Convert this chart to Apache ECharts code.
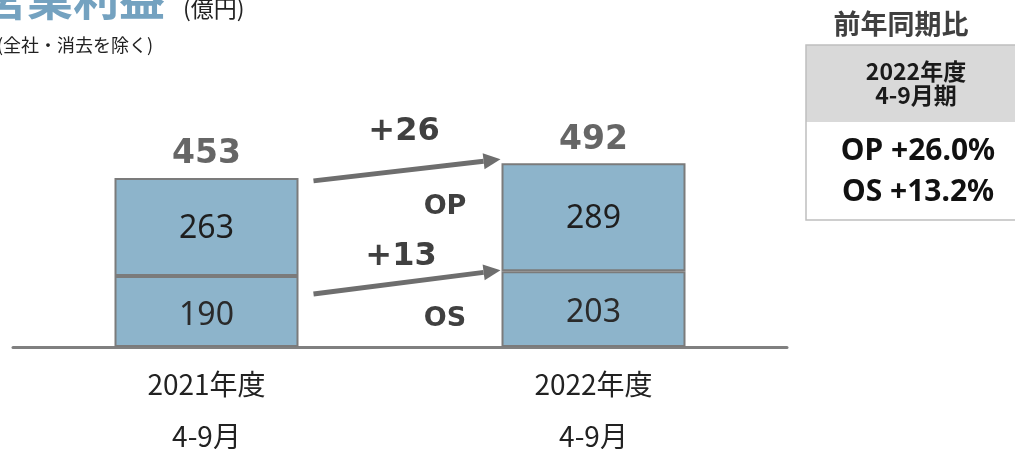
<!DOCTYPE html>
<html>
<head>
<meta charset="utf-8">
<script src="https://cdn.jsdelivr.net/npm/echarts@6/dist/echarts.min.js"></script>
<style>
  html, body { margin: 0; padding: 0; background: #fff; }
  #chart { width: 1015px; height: 449px; }
</style>
</head>
<body>
<div id="chart"></div>
<script>
// 営業利益（億円）: OS を下段、OP を上段に積み上げ
const categories = ['2021年度\n4-9月', '2022年度\n4-9月'];
const osValues = [190, 203];
const opValues = [263, 289];
const totals = osValues.map((v, i) => v + opValues[i]);
const yoyLabels = ['OP +26.0%', 'OS +13.2%'];

const BAR_COLOR = '#8db4cb';
const BAR_BORDER = '#7b7b7b';
const DARK = '#404040';
const BAR_W = 184;

const chart = echarts.init(document.getElementById('chart'));

chart.setOption({
  animation: false,
  grid: { left: 13, right: 228, top: 123, bottom: 102, containLabel: false, outerBoundsMode: 'none' },
  xAxis: {
    type: 'category',
    data: categories,
    axisTick: { show: false },
    axisLine: { lineStyle: { color: '#808080', width: 3 } },
    axisLabel: {
      margin: 11,
      color: '#222',
      fontSize: 28,
      lineHeight: 52,
      fontFamily: '"Noto Sans CJK JP", sans-serif'
    }
  },
  yAxis: { type: 'value', min: 0, max: 600, show: false },
  series: [
    {
      name: 'OS', type: 'bar', stack: 'total', barWidth: BAR_W,
      data: osValues,
      itemStyle: { color: BAR_COLOR, borderColor: BAR_BORDER, borderWidth: 2 },
      label: { show: true, position: 'inside', color: '#2a2a2a', fontSize: 32, fontFamily: '"Noto Sans", sans-serif', offset: [0, 4] }
    },
    {
      name: 'OP', type: 'bar', stack: 'total', barWidth: BAR_W,
      data: opValues,
      itemStyle: { color: BAR_COLOR, borderColor: BAR_BORDER, borderWidth: 2 },
      label: { show: true, position: 'inside', color: '#1e1e1e', fontSize: 32, fontFamily: '"Noto Sans", sans-serif', offset: [0, 2] }
    },
    {
      name: 'total', type: 'scatter', data: totals, symbolSize: 1,
      itemStyle: { color: 'rgba(0,0,0,0)' },
      label: {
        show: true, position: 'inside', offset: [0, -23],
        color: DARK, fontSize: 33, fontWeight: 'bold', fontFamily: '"DejaVu Sans", sans-serif'
      }
    }
  ]
});

// 前年差の矢印と注記をスケールから配置
function px(i, v) { return chart.convertToPixel({ gridIndex: 0 }, [i, v]); }

function arrow(x1, y1, x2, y2) {
  const ang = Math.atan2(y2 - y1, x2 - x1);
  const len = 17, half = 8;
  const bx = x2 - len * Math.cos(ang), by = y2 - len * Math.sin(ang);
  const nx = -Math.sin(ang), ny = Math.cos(ang);
  return [
    { type: 'line', shape: { x1: x1, y1: y1, x2: bx, y2: by }, style: { stroke: '#6e6e6e', lineWidth: 5 } },
    { type: 'polygon', shape: { points: [[x2, y2], [bx + nx * half, by + ny * half], [bx - nx * half, by - ny * half]] }, style: { fill: '#6e6e6e' } }
  ];
}

const leftTop = px(0, totals[0]), rightTop = px(1, totals[1]);
const leftSplit = px(0, osValues[0]), rightSplit = px(1, osValues[1]);
const x1 = leftTop[0] + BAR_W / 2 + 15;
const x2 = rightTop[0] - BAR_W / 2 - 1;
const opDiff = opValues[1] - opValues[0];
const osDiff = osValues[1] - osValues[0];
const boldText = (text, x, y, size, extra) => ({
  type: 'text', x: x, y: y,
  style: Object.assign({ text: text, fill: DARK, fontSize: size, fontWeight: 'bold', fontFamily: '"DejaVu Sans", sans-serif', textAlign: 'center', textVerticalAlign: 'middle' }, extra || {})
});
const cjk = '"Noto Sans CJK JP", sans-serif';

const graphics = [].concat(
  arrow(x1, leftTop[1] + 3, x2, rightTop[1] - 4),
  arrow(x1, leftSplit[1] + 18, x2, rightSplit[1] - 1),
  [
    boldText('+' + opDiff, 404, rightTop[1] - 32, 32),
    boldText('+' + osDiff, 401, rightSplit[1] - 15, 32),
    boldText('OP', 445, leftTop[1] + 29, 27),
    boldText('OS', 445, leftSplit[1] + 43, 27),
    // 見出し
    { type: 'text', x: -19, y: 21, style: { text: '営業利益', fill: '#74a2c0', fontSize: 46, fontWeight: 'bold', fontFamily: cjk, textVerticalAlign: 'bottom' } },
    { type: 'text', x: 183, y: 8, style: { text: '(億円)', fill: '#222', fontSize: 23, fontFamily: cjk, textVerticalAlign: 'middle' } },
    { type: 'text', x: -3, y: 45, style: { text: '(全社・消去を除く)', fill: '#222', fontSize: 18, fontFamily: cjk, textVerticalAlign: 'middle' } },
    // 前年同期比パネル
    { type: 'text', x: 901, y: 24, style: { text: '前年同期比', fill: DARK, fontSize: 27, fontWeight: 'bold', fontFamily: cjk, textAlign: 'center', textVerticalAlign: 'middle' } },
    { type: 'rect', shape: { x: 806, y: 45, width: 230, height: 77 }, style: { fill: '#d9d9d9' } },
    { type: 'rect', shape: { x: 806, y: 45, width: 230, height: 175 }, style: { fill: 'none', stroke: '#bfbfbf', lineWidth: 1.5 } },
    { type: 'text', x: 916, y: 71, style: { text: '2022年度', fill: '#1a1a1a', fontSize: 23, fontWeight: 'bold', fontFamily: cjk, textAlign: 'center', textVerticalAlign: 'middle' } },
    { type: 'text', x: 916, y: 95, style: { text: '4-9月期', fill: '#1a1a1a', fontSize: 23, fontWeight: 'bold', fontFamily: cjk, textAlign: 'center', textVerticalAlign: 'middle' } },
    { type: 'text', x: 918, y: 151, style: { text: yoyLabels[0], fill: '#111', fontSize: 30, fontWeight: 'bold', fontFamily: '"Noto Sans", sans-serif', textAlign: 'center', textVerticalAlign: 'middle' } },
    { type: 'text', x: 918, y: 192, style: { text: yoyLabels[1], fill: '#111', fontSize: 30, fontWeight: 'bold', fontFamily: '"Noto Sans", sans-serif', textAlign: 'center', textVerticalAlign: 'middle' } }
  ]
);

chart.setOption({ graphic: graphics });
</script>
</body>
</html>
